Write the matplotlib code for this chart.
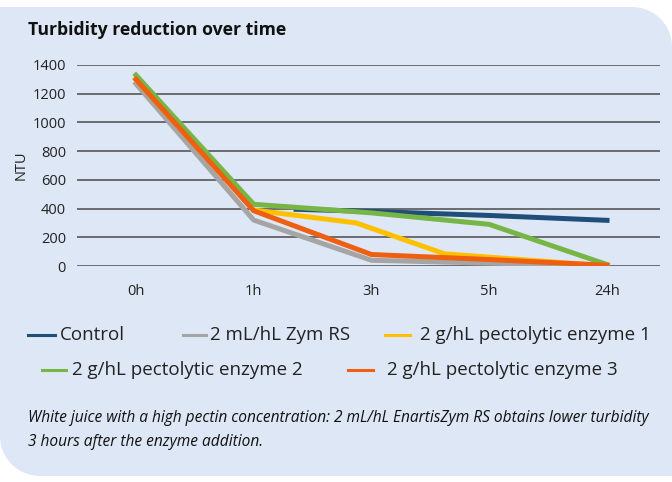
import numpy as np
import matplotlib
matplotlib.use("Agg")
import matplotlib.pyplot as plt
from matplotlib.path import Path
from matplotlib.patches import PathPatch
from matplotlib.lines import Line2D

# === data ===
categories = ["0h", "1h", "3h", "5h", "24h"]

control_x = [1.36, 2, 3, 4]
control = [395, 380, 352, 318]

zym_x = [0, 1, 2, 3, 4]
zym = [1270, 320, 40, 20, 0]

enz1_x = [0, 1, 1.87, 2.62, 4]
enz1 = [1300, 390, 300, 85, 0]

enz2_x = [0, 1, 2, 3, 4]
enz2 = [1330, 430, 370, 290, 10]

enz3_x = [0, 1, 2, 3, 4]
enz3 = [1300, 385, 80, 45, 5]

labels = ["Control", "2 mL/hL Zym RS", "2 g/hL pectolytic enzyme 1",
          "2 g/hL pectolytic enzyme 2", "2 g/hL pectolytic enzyme 3"]
colors = ["#1F4E79", "#A5A5A5", "#FFC000", "#76B546", "#EE5F12"]

plt.rcParams['font.family'] = ['Open Sans', 'DejaVu Sans']

fig = plt.figure(figsize=(6.72, 4.82), dpi=100)
W, H = 672, 482

# === background panel, rounded top-right and bottom-left ===
top, bot, r = 475, 6, 40
verts = [(0, top)]
verts += [(W - r + r * np.cos(t), top - r + r * np.sin(t)) for t in np.linspace(np.pi / 2, 0, 20)]
verts += [(W, bot)]
verts += [(r + r * np.cos(t), bot + r + r * np.sin(t)) for t in np.linspace(-np.pi / 2, -np.pi, 20)]
verts += [(0, top), (0, top)]
codes = [Path.MOVETO] + [Path.LINETO] * (len(verts) - 2) + [Path.CLOSEPOLY]
verts = [(x / W, y / H) for x, y in verts]
fig.patches.append(PathPatch(Path(verts, codes), transform=fig.transFigure,
                             facecolor="#DEE7F5", edgecolor="none", zorder=-5))

ax = fig.add_axes([77 / W, 216 / H, (660 - 77) / W, 201 / H])
ax.patch.set_alpha(0)

lw = 3.6
ax.plot(control_x, control, color=colors[0], lw=lw)
ax.plot(zym_x, zym, color=colors[1], lw=lw)
ax.plot(enz1_x, enz1, color=colors[2], lw=lw)
ax.plot(enz2_x, enz2, color=colors[3], lw=lw)
ax.plot(enz3_x, enz3, color=colors[4], lw=lw)

ax.set_xlim(-0.5, 4.45)
ax.set_ylim(0, 1400)
ax.set_yticks(range(0, 1401, 200))
ax.set_xticks(range(len(categories)))
ax.set_xticklabels(categories)
ax.tick_params(length=0, labelsize=10.5, colors="#222222")
ax.tick_params(axis="x", pad=13)
ax.tick_params(axis="y", pad=8)
ax.yaxis.grid(True, color="#4a4a4a", lw=1.1)
ax.set_axisbelow(True)
for s in ax.spines.values():
    s.set_visible(False)
ax.set_ylabel("NTU", fontsize=10.5, color="#222222", labelpad=3)

fig.text(28 / W, 1 - 30 / H, "Turbidity reduction over time", fontsize=12.7,
         fontweight="bold", va="center", ha="left", color="#111111")

# === legend, drawn by hand in two rows ===
# (handle start, handle end, text x, row y) in pixels
entries = [(28, 55, 60, 335), (183, 206, 210, 335), (385, 410, 420, 335),
           (42, 66, 72, 370), (348, 373, 387, 370)]
for (x0, x1, tx, y), lab, c in zip(entries, labels, colors):
    fig.add_artist(Line2D([x0 / W, x1 / W], [1 - y / H, 1 - y / H], color=c, lw=2.2,
                          transform=fig.transFigure))
    fig.text(tx / W, 1 - y / H, lab, fontsize=13.5, va="center", ha="left", color="#222222")

caption = ("White juice with a high pectin concentration: 2 mL/hL EnartisZym RS obtains lower turbidity\n"
           "3 hours after the enzyme addition.")
fig.text(28 / W, 1 - 430 / H, caption, fontsize=11.2, style="italic",
         va="center", ha="left", color="#111111", linespacing=1.6)

fig.savefig("out.png", dpi=100)
